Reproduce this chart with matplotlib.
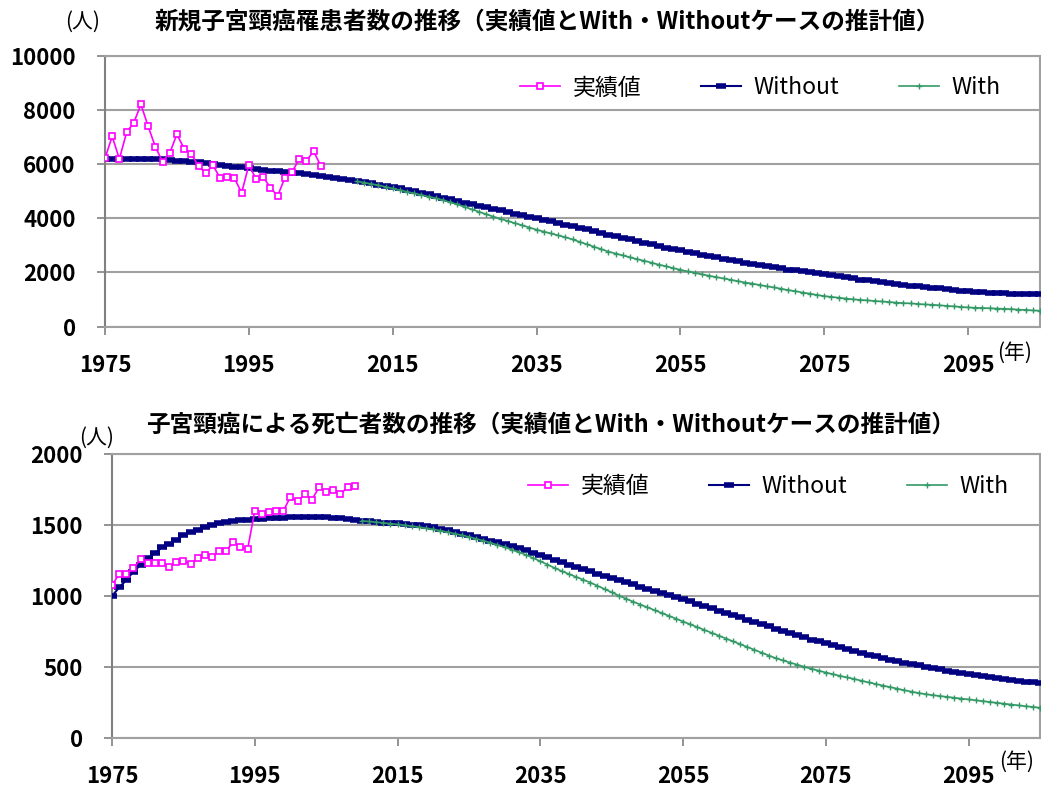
import numpy as np
import matplotlib
matplotlib.use("Agg")
import matplotlib.pyplot as plt

plt.rcParams['font.family'] = ['Noto Sans CJK JP', 'DejaVu Sans']

# 新規子宮頸癌罹患者数
inc_act_years = list(range(1975, 2006))
inc_act = [6220, 7020, 6190, 7170, 7530, 8200, 7390, 6640, 6090, 6410,
           7100, 6570, 6380, 5920, 5670, 5960, 5490, 5520, 5480, 4940,
           5970, 5450, 5520, 5130, 4820, 5490, 5700, 6190, 6130, 6470, 5940]

inc_wo_years = list(range(1975, 2106))
inc_wo = [6200, 6200, 6200, 6200, 6200, 6190, 6190, 6180, 6170, 6150,
          6130, 6110, 6090, 6060, 6030, 6000, 5970, 5940, 5910, 5880,
          5850, 5820, 5790, 5760, 5730, 5700, 5680, 5660, 5630, 5600,
          5570, 5530, 5490, 5450, 5410, 5370, 5330, 5290, 5240, 5200,
          5150, 5100, 5050, 5000, 4950, 4890, 4830, 4760, 4700, 4640,
          4580, 4520, 4470, 4410, 4350, 4290, 4230, 4170, 4110, 4060,
          4010, 3950, 3890, 3830, 3770, 3710, 3650, 3590, 3530, 3460,
          3400, 3340, 3280, 3220, 3160, 3100, 3040, 2980, 2920, 2870,
          2820, 2770, 2710, 2660, 2610, 2560, 2510, 2460, 2410, 2360,
          2320, 2270, 2230, 2190, 2150, 2110, 2080, 2040, 2000, 1970,
          1940, 1900, 1860, 1820, 1780, 1740, 1710, 1670, 1640, 1610,
          1580, 1550, 1520, 1490, 1460, 1430, 1410, 1380, 1360, 1330,
          1310, 1290, 1270, 1260, 1240, 1230, 1220, 1210, 1200, 1200,
          1190]

inc_w_years = list(range(2010, 2106))
inc_w = [5360, 5320, 5270, 5220, 5160, 5100, 5040, 4980, 4920, 4860,
         4800, 4740, 4670, 4590, 4510, 4420, 4330, 4240, 4150, 4060,
         3980, 3900, 3820, 3740, 3660, 3580, 3510, 3440, 3370, 3300,
         3220, 3130, 3040, 2950, 2860, 2770, 2700, 2630, 2560, 2490,
         2430, 2360, 2290, 2230, 2160, 2100, 2040, 1990, 1930, 1880,
         1830, 1780, 1730, 1680, 1630, 1590, 1540, 1490, 1450, 1400,
         1350, 1310, 1260, 1220, 1170, 1130, 1100, 1070, 1040, 1010,
         990, 970, 950, 930, 910, 890, 870, 860, 840, 820,
         810, 790, 770, 750, 730, 710, 700, 690, 680, 670,
         660, 650, 630, 620, 600, 590]

# 子宮頸癌による死亡者数
dth_act_years = list(range(1975, 2010))
dth_act = [1076, 1155, 1155, 1195, 1260, 1236, 1231, 1231, 1207, 1238,
           1250, 1226, 1267, 1286, 1274, 1319, 1319, 1381, 1345, 1331,
           1600, 1576, 1593, 1600, 1600, 1700, 1667, 1719, 1679, 1767,
           1736, 1750, 1719, 1767, 1778]

dth_wo_years = list(range(1975, 2106))
dth_wo = [1000, 1060, 1112, 1172, 1219, 1267, 1302, 1343, 1369, 1397,
          1428, 1452, 1469, 1488, 1500, 1512, 1521, 1529, 1533, 1538,
          1542, 1545, 1548, 1550, 1552, 1554, 1556, 1557, 1557, 1557,
          1556, 1552, 1547, 1540, 1535, 1530, 1526, 1522, 1518, 1515,
          1512, 1508, 1503, 1498, 1493, 1485, 1475, 1465, 1453, 1441,
          1429, 1417, 1404, 1391, 1378, 1364, 1350, 1336, 1322, 1305,
          1290, 1272, 1255, 1238, 1222, 1206, 1190, 1174, 1158, 1142,
          1127, 1112, 1097, 1082, 1067, 1052, 1037, 1022, 1007, 992,
          977, 962, 947, 930, 914, 897, 881, 865, 849, 833,
          817, 801, 785, 769, 753, 738, 723, 708, 693, 679,
          665, 651, 638, 624, 611, 598, 586, 574, 562, 551,
          540, 530, 520, 510, 501, 492, 483, 474, 466, 458,
          450, 443, 436, 429, 422, 415, 408, 402, 396, 390,
          385]

dth_w_years = list(range(2010, 2106))
dth_w = [1530, 1526, 1521, 1516, 1511, 1505, 1499, 1493, 1486, 1478,
         1470, 1461, 1451, 1440, 1429, 1417, 1404, 1390, 1376, 1360,
         1344, 1327, 1309, 1290, 1268, 1245, 1222, 1198, 1175, 1155,
         1135, 1115, 1095, 1072, 1049, 1026, 1003, 981, 960, 940,
         920, 900, 880, 860, 840, 820, 800, 780, 760, 740,
         720, 700, 680, 660, 640, 620, 600, 580, 561, 545,
         530, 515, 500, 486, 473, 460, 448, 436, 425, 414,
         402, 390, 379, 368, 357, 346, 335, 325, 315, 307,
         300, 294, 288, 282, 276, 270, 264, 258, 252, 246,
         240, 234, 228, 222, 217, 212]

x_ticks = [1975, 1995, 2015, 2035, 2055, 2075, 2095]

W, H = 1041, 787
fig = plt.figure(figsize=(W / 100, H / 100), dpi=100)
ax1 = fig.add_axes([105 / W, 1 - 326.7 / H, 935 / W, 271 / H])
ax2 = fig.add_axes([112 / W, 1 - 737.7 / H, 928 / W, 283.4 / H])


def draw(ax, act_x, act, wo_x, wo, w_x, w, ymax, ystep, leg_xy):
    ax.plot(wo_x, wo, color='#000080', lw=1.5, marker='_', ms=7, mew=4,
            label='Without', zorder=3)
    ax.plot(w_x, w, color='#339966', lw=1.2, marker='+', ms=5, mew=1,
            label='With', zorder=4)
    ax.plot(act_x, act, color='#FF00FF', lw=1.2, marker='s', ms=5, mew=1.2,
            mfc='white', mec='#FF00FF', label='実績値', zorder=5)
    ax.set_xlim(1975, 2105)
    ax.set_ylim(0, ymax)
    ax.set_yticks(np.arange(0, ymax + 1, ystep))
    ax.set_xticks(x_ticks)
    ax.grid(axis='y', color='#A0A0A0', lw=1.5)
    ax.set_axisbelow(True)
    for s in ax.spines.values():
        s.set_color('#A0A0A0')
        s.set_linewidth(1.5)
    ax.spines['left'].set_color('#808080')
    ax.tick_params(axis='x', direction='out', length=6, width=1.2,
                   color='#808080', pad=14, labelsize=16)
    ax.tick_params(axis='y', direction='out', length=6, width=1.2,
                   color='#808080', pad=15, labelsize=16)
    for lb in ax.get_xticklabels() + ax.get_yticklabels():
        lb.set_fontweight('bold')
    h, l = ax.get_legend_handles_labels()
    order = [2, 0, 1]
    ax.legend([h[i] for i in order], [l[i] for i in order], ncol=3,
              frameon=False, loc='center left', bbox_to_anchor=leg_xy,
              fontsize=16.5, handlelength=1.75, columnspacing=2.6,
              handletextpad=0.55, borderpad=0, borderaxespad=0)


draw(ax1, inc_act_years, inc_act, inc_wo_years, inc_wo, inc_w_years, inc_w,
     10000, 2000, (0.444, 0.881))
draw(ax2, dth_act_years, dth_act, dth_wo_years, dth_wo, dth_w_years, dth_w,
     2000, 500, (0.448, 0.888))

fig.text(547 / W, 1 - 22 / H,
         '新規子宮頸癌罹患者数の推移（実績値とWith・Withoutケースの推計値）',
         ha='center', va='center', fontsize=17, fontweight='bold')
fig.text(551 / W, 1 - 425 / H,
         '子宮頸癌による死亡者数の推移（実績値とWith・Withoutケースの推計値）',
         ha='center', va='center', fontsize=17, fontweight='bold')
fig.text(83 / W, 1 - 22 / H, '(人)', ha='center', va='center', fontsize=15)
fig.text(97 / W, 1 - 438 / H, '(人)', ha='center', va='center', fontsize=15)
fig.text(1015 / W, 1 - 353 / H, '(年)', ha='center', va='center', fontsize=15)
fig.text(1017 / W, 1 - 762 / H, '(年)', ha='center', va='center', fontsize=15)

fig.savefig('out.png', dpi=100)
